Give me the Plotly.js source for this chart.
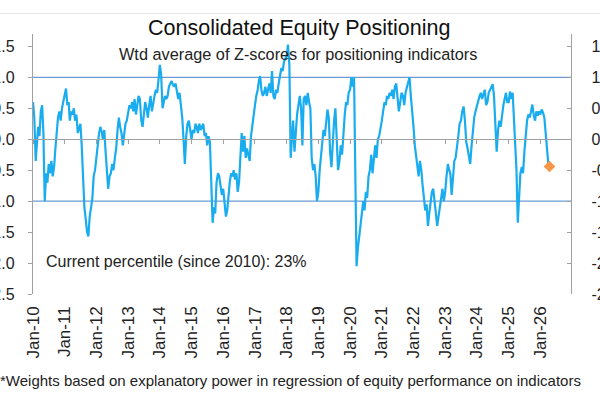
<!DOCTYPE html>
<html>
<head>
<meta charset="utf-8">
<script src="https://cdn.plot.ly/plotly-3.0.1.min.js"></script>
<style>
  html, body { margin: 0; padding: 0; width: 600px; height: 399px; overflow: hidden; background: #fff; }
  #chart { position: absolute; left: -20px; top: 0; width: 640px; height: 399px; }
</style>
</head>
<body>
<div id="chart"></div>
<script>
// Half-monthly readings (1st and 16th of each month) of the consolidated positioning z-score
const v2010 = [0.60, 0.35, -0.35, -0.10, 0.20, 0.05, 0.45, 0.55, 0.10, -1.00, -0.55, -0.70, -0.40, -0.55, -0.35, -0.60, -0.45, -0.15, 0.10, 0.35, 0.45, 0.30, 0.50, 0.60];
const v2011 = [0.70, 0.82, 0.55, 0.60, 0.30, 0.45, 0.40, 0.50, 0.30, 0.40, 0.10, 0.20, 0.25, -0.10, -0.70, -1.10, -1.30, -1.50, -1.57, -1.25, -1.10, -0.95, -0.60, -0.50];
const v2012 = [-0.30, -0.05, 0.10, 0.20, 0.13, 0.00, 0.15, -0.20, -0.50, -0.80, -0.60, -0.55, -0.40, -0.50, -0.30, -0.15, 0.15, 0.35, 0.20, 0.10, -0.10, 0.05, 0.25, 0.30];
const v2013 = [0.45, 0.55, 0.50, 0.60, 0.45, 0.65, 0.40, 0.60, 0.70, 0.65, 0.30, 0.20, 0.45, 0.60, 0.50, 0.35, 0.55, 0.70, 0.45, 0.60, 0.70, 0.80, 0.75, 0.95];
const v2014 = [1.20, 1.05, 0.50, 0.60, 0.70, 0.65, 0.70, 0.85, 0.90, 0.94, 0.88, 0.85, 0.90, 0.80, 0.65, 0.75, 0.55, 0.35, 0.00, -0.40, 0.05, 0.25, 0.30, 0.10];
const v2015 = [0.00, 0.15, 0.10, 0.25, 0.20, 0.10, 0.25, 0.15, 0.20, 0.25, 0.05, 0.10, -0.10, 0.05, -0.05, -0.60, -1.35, -1.10, -1.20, -0.70, -0.55, -0.60, -0.75, -0.90];
const v2016 = [-0.80, -1.10, -1.25, -1.15, -0.90, -0.70, -0.55, -0.60, -0.50, -0.65, -0.55, -0.85, -0.70, -0.30, 0.10, -0.20, 0.05, -0.30, -0.15, -0.25, -0.35, 0.05, 0.25, 0.35];
const v2017 = [0.55, 0.70, 0.80, 0.95, 1.02, 0.80, 0.70, 0.75, 0.85, 0.70, 0.80, 0.90, 0.75, 1.10, 0.70, 0.65, 0.80, 0.75, 0.90, 1.05, 1.15, 1.10, 1.25, 1.30];
const v2018 = [1.35, 1.53, 1.20, -0.30, 0.10, 0.30, -0.20, 0.20, 0.40, 0.55, 0.70, 0.50, -0.10, 0.65, 0.70, 0.55, 0.75, 0.60, 0.50, -0.30, -0.50, -0.40, -0.60, -1.00];
const v2019 = [-0.85, -0.50, -0.30, -0.05, 0.15, 0.05, 0.30, 0.48, 0.35, -0.20, -0.45, 0.00, 0.30, 0.50, 0.05, -0.50, -0.35, -0.10, -0.25, 0.10, 0.40, 0.60, 0.55, 0.75];
const v2020 = [0.80, 1.00, 0.85, 1.00, -0.80, -2.05, -1.75, -1.55, -1.40, -1.25, -1.00, -1.15, -0.85, -0.95, -0.60, -0.50, -0.25, -0.55, -0.35, -0.10, -0.30, 0.00, 0.05, 0.15];
const v2021 = [0.30, 0.45, 0.60, 0.55, 0.70, 0.65, 0.75, 0.70, 0.80, 0.65, 0.85, 0.90, 0.70, 0.45, 0.60, 0.75, 0.70, 0.55, 0.75, 0.85, 0.90, 1.00, 0.70, 0.50];
const v2022 = [0.20, -0.10, -0.30, -0.45, -0.60, -0.35, -0.50, -0.75, -1.00, -1.15, -1.05, -1.40, -1.20, -1.05, -0.85, -0.80, -1.00, -1.20, -1.40, -1.25, -1.10, -0.95, -0.80, -1.00];
const v2023 = [-0.85, -0.60, -0.40, -0.50, -0.55, -0.90, -0.60, -0.35, -0.30, -0.15, 0.05, 0.25, 0.30, 0.45, 0.53, 0.30, -0.05, -0.15, -0.30, -0.40, -0.10, 0.20, 0.35, 0.45];
const v2024 = [0.55, 0.65, 0.70, 0.75, 0.65, 0.72, 0.80, 0.55, 0.60, 0.75, 0.80, 0.85, 0.89, 0.70, 0.10, -0.20, 0.15, 0.30, 0.20, 0.40, 0.55, 0.65, 0.75, 0.60];
const v2025 = [0.60, 0.77, 0.65, 0.75, 0.35, -0.10, -0.50, -1.35, -0.85, -0.55, -0.45, -0.55, -0.20, 0.10, 0.30, 0.40, 0.35, 0.45, 0.56, 0.40, 0.30, 0.45, 0.38, 0.45];
const v2026 = [0.40, 0.48, 0.43, 0.35, 0.16, -0.15, -0.37, -0.44];

const years = [2010, 2011, 2012, 2013, 2014, 2015, 2016, 2017, 2018, 2019, 2020, 2021, 2022, 2023, 2024, 2025, 2026];
const yearValues = [v2010, v2011, v2012, v2013, v2014, v2015, v2016, v2017, v2018, v2019, v2020, v2021, v2022, v2023, v2024, v2025, v2026];
const monthCodes = ['01','02','03','04','05','06','07','08','09','10','11','12'];
const halfMonthDays = ['01','16'];

const yTickVals = [-2.5, -2.0, -1.5, -1.0, -0.5, 0.0, 0.5, 1.0, 1.5];
const yTickText = ['-2.5', '-2.0', '-1.5', '-1.0', '-0.5', '0.0', '0.5', '1.0', '1.5'];
const refLevels = [1.0, -1.0];

const titleText = 'Consolidated Equity Positioning';
const subtitleText = 'Wtd average of Z-scores for positioning indicators';
const noteText = 'Current percentile (since 2010): 23%';
const footText = '*Weights based on explanatory power in regression of equity performance on indicators';

// Build dated series
const xDates = [], yVals = [];
years.forEach((yr, i) => {
  yearValues[i].forEach((v, j) => {
    const m = monthCodes[Math.floor(j / 2)];
    const d = halfMonthDays[j % 2];
    xDates.push(`${yr}-${m}-${d}`);
    yVals.push(v);
  });
});
const lastX = xDates[xDates.length - 1];
const lastY = yVals[yVals.length - 1];

const xRange = ['2010-01-01', '2026-12-20'];
const yRange = [-2.5, 1.7];
const zeroPos = (0 - yRange[0]) / (yRange[1] - yRange[0]);

const font = 'Liberation Sans, Arial, sans-serif';
const axisGray = '#a0a0a0';

const traces = [
  { x: xDates, y: yVals, type: 'scatter', mode: 'lines',
    line: { color: '#19acee', width: 2.2 }, hoverinfo: 'skip', showlegend: false },
  { x: [lastX], y: [lastY], type: 'scatter', mode: 'markers',
    marker: { symbol: 'diamond', color: '#f79646', size: 9 }, hoverinfo: 'skip', showlegend: false },
  { x: [lastX], y: [lastY], xaxis: 'x2', yaxis: 'y2', type: 'scatter', mode: 'markers',
    marker: { opacity: 0 }, hoverinfo: 'skip', showlegend: false }
];

const shapes = refLevels.map(lv => ({
  type: 'line', xref: 'paper', yref: 'y', x0: 0, x1: 1, y0: lv, y1: lv,
  line: { color: '#6b9bd2', width: 1.2 }, layer: 'below'
}));
shapes.push({ type: 'line', xref: 'paper', yref: 'paper', x0: -0.2, x1: 1.2, y0: 1.079, y1: 1.079,
  line: { color: '#e3e3e3', width: 1 } });

const layout = {
  width: 640, height: 399,
  margin: { l: 53, r: 49, t: 34, b: 105 },
  paper_bgcolor: '#ffffff', plot_bgcolor: '#ffffff',
  font: { family: font, size: 16, color: '#222' },
  showlegend: false,
  xaxis: {
    type: 'date', range: xRange, tick0: '2010-01-01', dtick: 'M12', tickformat: '%b-%y',
    tickangle: -90, showline: false, ticks: '', showgrid: false, zeroline: false,
    tickfont: { family: font, size: 17, color: '#222' }, ticklabelstandoff: 8
  },
  xaxis2: {
    type: 'date', range: xRange, tick0: '2010-01-01', dtick: 'M12', overlaying: 'x',
    anchor: 'free', position: zeroPos, showline: true, linecolor: axisGray, linewidth: 1.2,
    ticks: 'outside', ticklen: 4, tickcolor: axisGray, showticklabels: false, showgrid: false, zeroline: false
  },
  yaxis: {
    range: yRange, tickvals: yTickVals, ticktext: yTickText, showline: true, linecolor: axisGray, linewidth: 1.2,
    ticks: 'outside', ticklen: 4, tickcolor: axisGray, showgrid: false, zeroline: false,
    tickfont: { family: font, size: 16, color: '#222' }, ticklabelstandoff: 10
  },
  yaxis2: {
    range: yRange, tickvals: yTickVals, ticktext: yTickText, overlaying: 'y', side: 'right', anchor: 'x',
    showline: true, linecolor: axisGray, linewidth: 1.2, ticks: 'inside', ticklen: 4, tickcolor: axisGray,
    showgrid: false, zeroline: false, tickfont: { family: font, size: 16, color: '#222' }, ticklabelstandoff: 16
  },
  shapes: shapes,
  annotations: [
    { text: titleText, xref: 'paper', yref: 'paper', x: 0.4935, y: 1.023, xanchor: 'center', yanchor: 'middle',
      showarrow: false, font: { family: font, size: 21.5, color: '#111' } },
    { text: subtitleText, xref: 'paper', yref: 'paper', x: 0.4926, y: 0.923, xanchor: 'center', yanchor: 'middle',
      showarrow: false, font: { family: font, size: 16.3, color: '#222' } },
    { text: noteText, xref: 'paper', yref: 'paper', x: 0.0205, y: 0.124, xanchor: 'left', yanchor: 'middle',
      showarrow: false, font: { family: font, size: 16, color: '#222' } },
    { text: footText, xref: 'paper', yref: 'paper', x: -0.065, y: -0.331, xanchor: 'left', yanchor: 'middle',
      showarrow: false, font: { family: font, size: 15, color: '#222' } }
  ]
};

Plotly.newPlot('chart', traces, layout, { displayModeBar: false, staticPlot: true });
</script>
</body>
</html>
